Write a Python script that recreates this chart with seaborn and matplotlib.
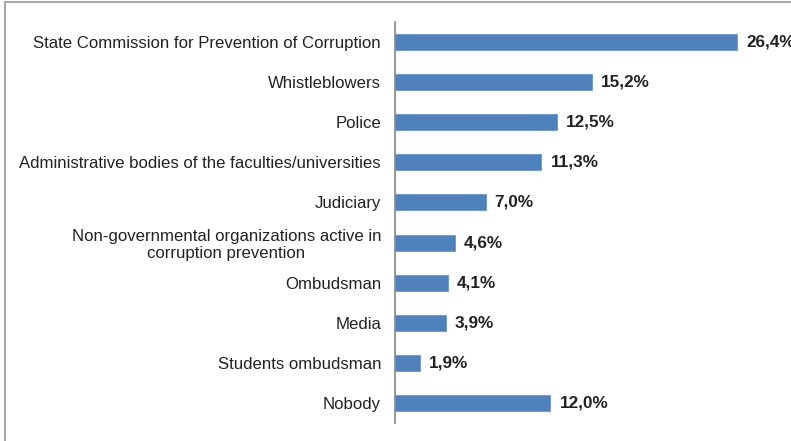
import matplotlib
matplotlib.use("Agg")
import matplotlib.pyplot as plt
import matplotlib.patches as mpatches
import seaborn as sns
import pandas as pd

categories = [
    "State Commission for Prevention of Corruption",
    "Whistleblowers",
    "Police",
    "Administrative bodies of the faculties/universities",
    "Judiciary",
    "Non-governmental organizations active in\ncorruption prevention",
    "Ombudsman",
    "Media",
    "Students ombudsman",
    "Nobody",
]
values = [26.4, 15.2, 12.5, 11.3, 7.0, 4.6, 4.1, 3.9, 1.9, 12.0]
value_labels = ["26,4%", "15,2%", "12,5%", "11,3%", "7,0%", "4,6%", "4,1%", "3,9%", "1,9%", "12,0%"]

df = pd.DataFrame({"category": categories, "value": values})

sns.set_style("white")
plt.rcParams["font.family"] = ["Liberation Sans", "DejaVu Sans"]

fig = plt.figure(figsize=(7.91, 4.41), dpi=100)
ax = fig.add_axes([395 / 791, 18 / 441, 390 / 791, 401 / 441])

sns.barplot(data=df, x="value", y="category", orient="h", color="#4F81BD",
            saturation=1, width=0.4, ax=ax, edgecolor="#6A96CC", linewidth=0.6)

ax.set_xlim(0, 30.1)
ax.set_ylim(len(categories) - 0.5, -0.5)
ax.set_xlabel("")
ax.set_ylabel("")
ax.set_xticks([])

# category boundaries as tick marks on the value axis
ax.set_yticks([i - 0.5 for i in range(len(categories) + 1)], minor=False)
ax.set_yticklabels([])
ax.set_yticks(range(len(categories)), minor=True)
ax.set_yticklabels(categories, minor=True, fontsize=12.1, color="#222222")
ax.tick_params(axis="y", which="major", length=5, width=1, color="#888888", direction="out")
ax.tick_params(axis="y", which="minor", length=0, pad=10)
for lbl in ax.get_yticklabels(minor=True):
    lbl.set_multialignment("center")

for s in ["top", "right", "bottom"]:
    ax.spines[s].set_visible(False)
ax.spines["left"].set_color("#888888")
ax.spines["left"].set_linewidth(1.2)

for i, (v, t) in enumerate(zip(values, value_labels)):
    ax.annotate(t, xy=(v, i), xytext=(6.5, 0), textcoords="offset points",
                ha="left", va="center", fontsize=12.3, fontweight="bold", color="#222222")

# outer frame of the figure
frame = mpatches.Rectangle((4.5 / 791, -0.1), 1.2, (439 / 441) + 0.1,
                           transform=fig.transFigure, fill=False,
                           edgecolor="#A8A8A8", linewidth=1.5, clip_on=False)
fig.patches.append(frame)

fig.savefig("out.png", dpi=100)
